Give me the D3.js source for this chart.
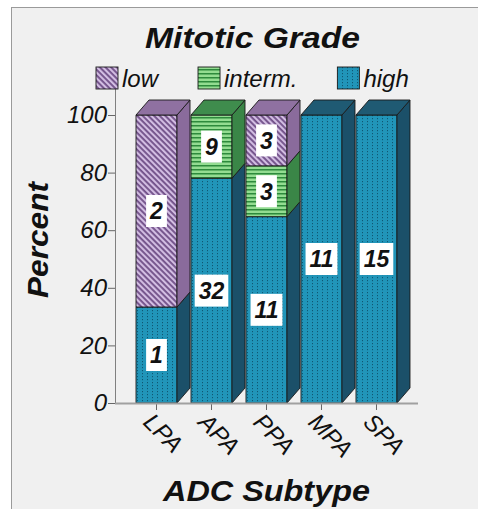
<!DOCTYPE html>
<html>
<head>
<meta charset="utf-8">
<script src="https://cdn.jsdelivr.net/npm/d3@7"></script>
<style>
  body { margin: 0; background: #fff; }
  text { font-family: "Liberation Sans", Arial, sans-serif; font-style: italic; fill: #111; }
</style>
</head>
<body>
<svg id="chart" width="478" height="509"></svg>
<script>
// Counts per ADC subtype
const subtypes = ["LPA", "APA", "PPA", "MPA", "SPA"];
const highCounts = [1, 32, 11, 11, 15];
const intermCounts = [0, 9, 3, 0, 0];
const lowCounts = [2, 0, 3, 0, 0];

// stack order bottom -> top, legend order left -> right
const grades = ["high", "interm.", "low"];
const legendOrder = ["low", "interm.", "high"];
const yTicks = [0, 20, 40, 60, 80, 100];

const width = 478;
const height = 509;
const depth = {x: 13, y: 15};

const colors = {
  "high": {bg: "#2195b9", mark: "#0f5873", side: "#1b5069", top: "#1f5a73"},
  "interm.": {bg: "#93dc91", mark: "#2d8a3c", side: "#3a8647", top: "#3f8c4d"},
  "low": {bg: "#d2bde2", mark: "#73528a", side: "#8a6b9c", top: "#8f71a1"}
};
const patternId = g => "pat-" + g.replace(".", "");

// one row per subtype, percentages used for the stack
const table = subtypes.map((s, i) => {
  const total = highCounts[i] + intermCounts[i] + lowCounts[i];
  return {
    subtype: s,
    counts: {"high": highCounts[i], "interm.": intermCounts[i], "low": lowCounts[i]},
    "high": highCounts[i] / total * 100,
    "interm.": intermCounts[i] / total * 100,
    "low": lowCounts[i] / total * 100
  };
});

const series = d3.stack().keys(grades)(table);

const x = d3.scaleBand()
  .domain(subtypes)
  .range([129, 404])
  .paddingInner(0.2545)
  .paddingOuter(0.1273);
const y = d3.scaleLinear().domain([0, 100]).range([403, 115]);
const axisX = 115;

const svg = d3.select("#chart");

// grey frame the chart sits in
svg.append("rect")
  .attr("x", 11.5).attr("y", 7.5)
  .attr("width", width).attr("height", height)
  .attr("fill", "#f0f0f0")
  .attr("stroke", "#9a9a9a");

// fill patterns
const defs = svg.append("defs");
const pLow = defs.append("pattern")
  .attr("id", patternId("low"))
  .attr("patternUnits", "userSpaceOnUse")
  .attr("width", 4).attr("height", 4)
  .attr("patternTransform", "rotate(45)");
pLow.append("rect").attr("width", 4).attr("height", 4).attr("fill", colors.low.bg);
pLow.append("rect").attr("width", 4).attr("height", 1.9).attr("fill", colors.low.mark);

const pMid = defs.append("pattern")
  .attr("id", patternId("interm."))
  .attr("patternUnits", "userSpaceOnUse")
  .attr("width", 4).attr("height", 4);
pMid.append("rect").attr("width", 4).attr("height", 4).attr("fill", colors["interm."].bg);
pMid.append("rect").attr("y", 1).attr("width", 4).attr("height", 1.5).attr("fill", colors["interm."].mark);

const pHigh = defs.append("pattern")
  .attr("id", patternId("high"))
  .attr("patternUnits", "userSpaceOnUse")
  .attr("width", 5).attr("height", 3);
pHigh.append("rect").attr("width", 5).attr("height", 3).attr("fill", colors.high.bg);
pHigh.append("rect").attr("x", 2).attr("y", 1).attr("width", 1).attr("height", 1.2).attr("fill", colors.high.mark);

// bars: front face, side face, and a top face for the last segment
const bw = x.bandwidth();
const bars = svg.append("g").attr("stroke", "#1a1a1a").attr("stroke-width", 0.9).attr("stroke-linejoin", "round");

series.forEach(s => {
  const g = s.key;
  s.filter(d => d[1] - d[0] > 0).forEach(d => {
    const x0 = x(d.data.subtype);
    const x1 = x0 + bw;
    const yt = y(d[1]);
    const yb = y(d[0]);
    bars.append("rect")
      .attr("x", x0).attr("y", yt)
      .attr("width", bw).attr("height", yb - yt)
      .attr("fill", `url(#${patternId(g)})`);
    bars.append("path")
      .attr("d", `M${x1},${yt}L${x1 + depth.x},${yt - depth.y}L${x1 + depth.x},${yb - depth.y}L${x1},${yb}Z`)
      .attr("fill", colors[g].side);
    if (d[1] > 99.999) {
      bars.append("path")
        .attr("d", `M${x0},${yt}L${x0 + depth.x},${yt - depth.y}L${x1 + depth.x},${yt - depth.y}L${x1},${yt}Z`)
        .attr("fill", colors[g].top);
    }
  });
});

// count labels in white boxes
series.forEach(s => {
  s.filter(d => d[1] - d[0] > 0).forEach(d => {
    const lab = svg.append("g")
      .attr("transform", `translate(${x(d.data.subtype) + bw / 2},${(y(d[0]) + y(d[1])) / 2})`);
    const box = lab.append("rect").attr("fill", "#fff");
    const t = lab.append("text")
      .attr("text-anchor", "middle")
      .attr("dy", "0.36em")
      .style("font-size", "23px")
      .style("font-weight", "bold")
      .text(d.data.counts[s.key]);
    const tw = t.node().getComputedTextLength();
    box.attr("x", -tw / 2 - 4).attr("y", -16).attr("width", tw + 8).attr("height", 32);
  });
});

// y axis
const yAxis = svg.append("g")
  .attr("transform", `translate(${axisX},0)`)
  .call(d3.axisLeft(y).tickValues(yTicks).tickSize(7).tickPadding(1));
yAxis.select(".domain").remove();
yAxis.selectAll(".tick line").attr("stroke", "#666");
yAxis.selectAll(".tick text")
  .style("font-size", "24px")
  .style("font-family", "'Liberation Sans', Arial, sans-serif")
  .attr("fill", "#1a1a1a");
svg.append("line")
  .attr("x1", axisX + 0.5).attr("x2", axisX + 0.5)
  .attr("y1", y(0)).attr("y2", y(100) - 27)
  .attr("stroke", "#808080");

// x axis
const xAxis = svg.append("g")
  .attr("transform", `translate(0,${y(0)})`)
  .call(d3.axisBottom(x).tickSize(7));
xAxis.select(".domain").remove();
xAxis.selectAll(".tick line").attr("stroke", "#666");
xAxis.selectAll(".tick text")
  .attr("transform", "translate(-2,8) rotate(45)")
  .attr("x", 0).attr("y", 0)
  .attr("dy", "0.74em")
  .attr("text-anchor", "start")
  .style("font-size", "24px")
  .style("font-family", "'Liberation Sans', Arial, sans-serif")
  .attr("fill", "#1a1a1a");
svg.append("line")
  .attr("x1", axisX).attr("x2", x.range()[1] + 14)
  .attr("y1", y(0) + 0.5).attr("y2", y(0) + 0.5)
  .attr("stroke", "#a0a0a0")
  .attr("stroke-width", 2);

// legend
let lx = 96;
legendOrder.forEach(g => {
  svg.append("rect")
    .attr("x", lx).attr("y", 67)
    .attr("width", 22).attr("height", 22)
    .attr("fill", `url(#${patternId(g)})`)
    .attr("stroke", "#1a1a1a")
    .attr("stroke-width", 0.9);
  const t = svg.append("text")
    .attr("x", lx + 26).attr("y", 87)
    .style("font-size", "24px")
    .text(g);
  lx += 26 + t.node().getComputedTextLength() + 40;
});

// titles
svg.append("text")
  .attr("x", 145).attr("y", 48)
  .attr("textLength", 215).attr("lengthAdjust", "spacingAndGlyphs")
  .style("font-size", "29px").style("font-weight", "bold")
  .text("Mitotic Grade");

svg.append("text")
  .attr("x", 163).attr("y", 501)
  .attr("textLength", 207).attr("lengthAdjust", "spacingAndGlyphs")
  .style("font-size", "30px").style("font-weight", "bold")
  .text("ADC Subtype");

svg.append("text")
  .attr("transform", "translate(48,298) rotate(-90)")
  .attr("textLength", 116).attr("lengthAdjust", "spacingAndGlyphs")
  .style("font-size", "30px").style("font-weight", "bold")
  .text("Percent");
</script>
</body>
</html>
